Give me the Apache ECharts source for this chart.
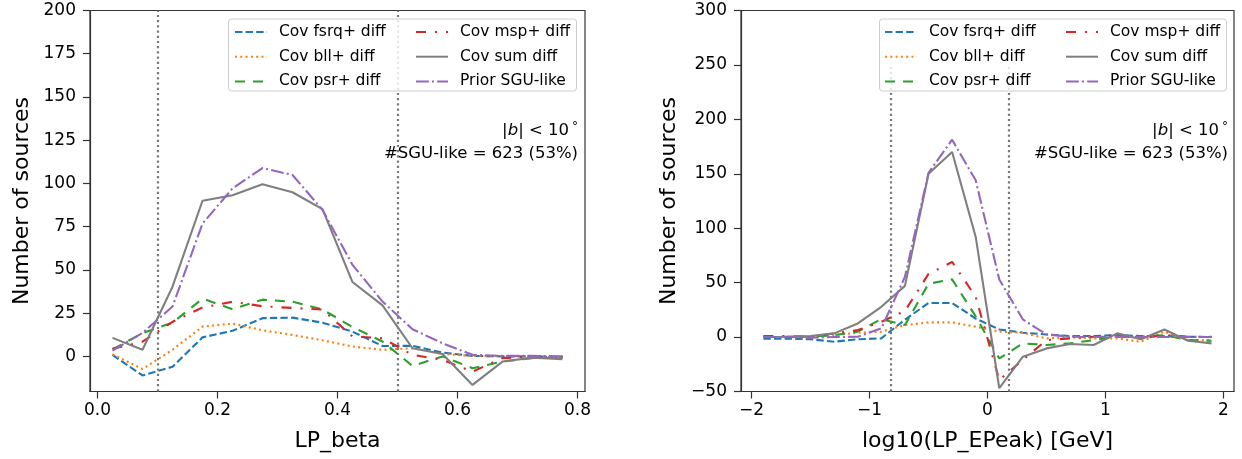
<!DOCTYPE html>
<html>
<head>
<meta charset="utf-8">
<script src="https://cdn.jsdelivr.net/npm/echarts@6/dist/echarts.min.js"></script>
<style>html,body{margin:0;padding:0;background:#fff}#c{width:1242px;height:459px}</style>
</head>
<body>
<div id="c"></div>
<script>
// ---------- data ----------
const betaX = [0.025,0.075,0.125,0.175,0.225,0.275,0.325,0.375,0.425,0.475,0.525,0.575,0.625,0.675,0.725,0.775];
const fsrqL  = [0.9,-11.0,-6.0,11.0,14.8,22.1,22.4,19.5,14.3,6.0,6.1,2.2,0.3,0,0,-0.4];
const bllL   = [1.2,-7.3,3.8,17.2,19.0,15.1,12.4,9.3,5.7,3.8,4.7,1.4,0.3,0,0,-0.4];
const psrL   = [4.1,13.4,19.5,33.4,27.3,32.8,31.6,27.1,17.0,8.6,-5.5,0,-6.8,-3,-1,-0.6];
const mspL   = [4.4,8.5,20.0,28.3,31.6,29.0,28.0,27.1,11.5,10.5,0.9,-2,-8.8,-1,0,0];
const sumL   = [10.7,3.8,40.3,90.0,93.2,99.5,94.9,85.2,43.0,29.5,4.7,1.4,-16.5,-3,-0.7,-1.6];
const priorL = [3.3,13.6,28.8,76.8,97.1,108.9,104.9,84.7,52.9,31.7,15.7,7.6,0.9,0.3,0.3,0];

const epX = [-1.9,-1.7,-1.5,-1.3,-1.1,-0.9,-0.7,-0.5,-0.3,-0.1,0.1,0.3,0.5,0.7,0.9,1.1,1.3,1.5,1.7,1.9];
const fsrqR  = [-1.5,-1.5,-2,-4.3,-2,-1.2,16,31.3,31.3,17,7,4,2.4,1,1,1.8,1,1,0.3,0];
const bllR   = [0,0,-0.3,1.8,4,5,11,13.5,13.5,9.5,5,4,-1.2,-0.3,-1.2,-1.2,-4.3,5,-2.8,-2.8];
const psrR   = [0,0.3,0.3,1.8,5,16.5,11,49,53,19,-19.6,-5.8,-7.3,-5.8,-2.8,0.3,0.3,1.8,-2.8,-3.4];
const mspR   = [1,1,0.3,3.4,6.4,14,24,58,69,37,-39.4,-21,-2.8,-1.2,0.3,1.8,-1.2,1.8,0.3,0.3];
const sumR   = [0,0.3,1,3.4,12.5,27.8,47,150,170,92,-47,-18,-10.4,-6.4,-7.3,3.4,-2,7,-3.4,-5.8];
const priorR = [0,0,-0.5,0,0.3,8,55.4,150.8,181.3,144,52.9,16.2,2.4,0.3,0,0.3,0,0,0,0];

const seriesNames = ['Cov fsrq+ diff','Cov bll+ diff','Cov psr+ diff','Cov msp+ diff','Cov sum diff','Prior SGU-like'];
const xTicksL = [0,0.2,0.4,0.6,0.8];
const yTicksL = [0,25,50,75,100,125,150,175,200];
const xTicksR = [-2,-1,0,1,2];
const yTicksR = [-50,0,50,100,150,200,250,300];
const vLinesL = [0.1,0.5];
const vLinesR = [-0.824,0.176];
const annot1 = '|{i|b}| < 10{d|°}';
const annot2 = '#SGU-like = 623 (53%)';

// ---------- styles ----------
const FONT = 'DejaVu Sans';
const styles = [
  {color:'#1f77b4', type:[7.4,3.2]},
  {color:'#ff7f0e', type:[2,3.3]},
  {color:'#2ca02c', type:[10,8]},
  {color:'#d62728', type:[10,9,2,9]},
  {color:'#7f7f7f', type:'solid'},
  {color:'#9467bd', type:[12.8,3.2,2,3.2]}
];
const fmt = v => String(v).replace('-', '\u2212');

function mkSeries(xs, ys, idx, axisIdx){
  return {
    type:'line', name: seriesNames[idx], xAxisIndex: axisIdx, yAxisIndex: axisIdx,
    data: xs.map((x,i)=>[x, ys[i]]), symbol:'none', showSymbol:false, smooth:false,
    lineStyle:{color:styles[idx].color, width:2.1, type:styles[idx].type},
    itemStyle:{color:styles[idx].color}, z: 3+idx, silent:true, emphasis:{disabled:true}
  };
}
function vlineSeries(vals, y0, y1, axisIdx){
  return {
    type:'line', name:'_v'+axisIdx, xAxisIndex:axisIdx, yAxisIndex:axisIdx, data:[], symbol:'none',
    markLine:{silent:true, symbol:'none', label:{show:false}, animation:false,
      lineStyle:{color:'#7a7a7a', width:2.2, type:[2.2,3]},
      data: vals.map(v=>[{coord:[v,y0]},{coord:[v,y1]}])}
  };
}
function xAxis(grid, min, max, ticks, name, nameGap, dec){
  return {type:'value', gridIndex:grid, min, max, splitLine:{show:false},
    axisLine:{show:true, onZero:false, lineStyle:{color:'#333', width:1.2}},
    axisTick:{show:true, length:7, customValues:ticks, lineStyle:{color:'#333', width:1.2}},
    axisLabel:{customValues:ticks, margin:11, fontSize:17, fontFamily:FONT, color:'#000',
      formatter:v=>fmt(dec? v.toFixed(dec): v)},
    name, nameLocation:'middle', nameGap, nameTextStyle:{fontSize:22, fontFamily:FONT, color:'#000'}};
}
function yAxis(grid, min, max, ticks, nameGap){
  return {type:'value', gridIndex:grid, min, max, splitLine:{show:false},
    axisLine:{show:true, onZero:false, lineStyle:{color:'#333', width:1.2}},
    axisTick:{show:true, length:7, customValues:ticks, lineStyle:{color:'#333', width:1.2}},
    axisLabel:{customValues:ticks, margin:14, fontSize:17, fontFamily:FONT, color:'#000', formatter:v=>fmt(v)},
    name:'Number of sources', nameLocation:'middle', nameGap, nameTextStyle:{fontSize:22, fontFamily:FONT, color:'#000'}};
}
function legendCol(left, names){
  return {show:true, orient:'vertical', left, top:24, padding:0, itemWidth:32, itemHeight:14, itemGap:8.7,
    data:names, selectedMode:false, z:30,
    itemStyle:{opacity:0, borderWidth:0},
    textStyle:{fontSize:15.5, fontFamily:FONT, color:'#000', padding:[0,0,0,7]}};
}
function legendBox(x, w){
  return {type:'rect', left:x, top:18.5, z:20, shape:{width:w, height:72, r:3},
    style:{fill:'rgba(255,255,255,0.8)', stroke:'#cccccc', lineWidth:1}, silent:true};
}
function annot(right, y, text, rich){
  return {type:'text', z:25, silent:true, style:{text, x:right, y, align:'right', verticalAlign:'middle',
    fontSize:16.5, fontFamily:FONT, fill:'#000', rich}};
}
const rich = {i:{fontStyle:'italic', fontSize:16.5, fontFamily:FONT}, d:{fontSize:12, fontFamily:FONT, padding:[0,0,8,3]}};

const series = [];
const Ls = [fsrqL,bllL,psrL,mspL,sumL,priorL];
const Rs = [fsrqR,bllR,psrR,mspR,sumR,priorR];
series.push(vlineSeries(vLinesL, -20.3, 200, 0));
series.push(vlineSeries(vLinesR, -50, 250, 1));
Ls.forEach((ys,i)=>series.push(mkSeries(betaX, ys, i, 0)));
Rs.forEach((ys,i)=>series.push(mkSeries(epX, ys, i, 1)));

const option = {
  animation:false,
  backgroundColor:'#fff',
  grid:[
    {left:90, top:10.5, width:495, height:381, show:true, borderColor:'#333', borderWidth:1.2, backgroundColor:'transparent', outerBoundsMode:'none'},
    {left:741, top:10.5, width:493, height:381, show:true, borderColor:'#333', borderWidth:1.2, backgroundColor:'transparent', outerBoundsMode:'none'}
  ],
  xAxis:[
    xAxis(0, -0.0125, 0.8125, xTicksL, 'LP_beta', 39, 1),
    xAxis(1, -2.09, 2.09, xTicksR, 'log10(LP_EPeak) [GeV]', 39, 0)
  ],
  yAxis:[
    yAxis(0, -20.3, 200, yTicksL, 57),
    yAxis(1, -50, 300, yTicksR, 61)
  ],
  legend:[
    legendCol(234, seriesNames.slice(0,3)),
    legendCol(415, seriesNames.slice(3,6)),
    legendCol(884, seriesNames.slice(0,3)),
    legendCol(1065, seriesNames.slice(3,6))
  ],
  graphic:[
    legendBox(228, 348), legendBox(879, 347),
    annot(578, 131, annot1, rich), annot(578, 154, annot2),
    annot(1228, 131, annot1, rich), annot(1228, 154, annot2)
  ],
  series
};
const chart = echarts.init(document.getElementById('c'), null, {renderer:'canvas'});
chart.setOption(option);
</script>
</body>
</html>
